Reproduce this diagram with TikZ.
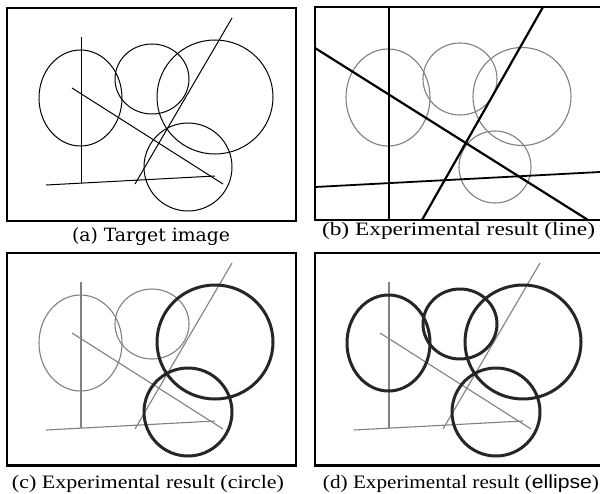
\documentclass[tikz,border=0pt]{standalone}
\usepackage{fontspec}
\setmainfont{Liberation Serif}
\newfontfamily\capAfont{DejaVu Serif}
\newfontfamily\capSfont{Liberation Sans}
\usepackage{graphicx}
\newlength\pxu \setlength\pxu{0.5mm}
\newcommand\drawtarget[3]{%
  \draw[#1] (81,37) -- (81,183);
  \draw[#1] (72,88) -- (223,184);
  \draw[#1] (232,18) -- (135,184);
  \draw[#1] (46,185) -- (215,176);
  \draw[#2] (80.5,98) ellipse [x radius=41.5, y radius=48];
  \draw[#2] (152,79) ellipse [x radius=37, y radius=35];
  \draw[#3] (215,97) ellipse [x radius=58, y radius=57];
  \draw[#3] (188,167) circle [radius=44];
}
\begin{document}
\begin{tikzpicture}[x=0.5mm,y=-0.5mm,
  frame/.style={line width=2.5\pxu, black},
  tline/.style={line width=1\pxu, black},
  gline/.style={line width=1.1\pxu, black!50},
  bline/.style={line width=2.2\pxu, black},
  bcirc/.style={line width=3\pxu, black!85},
  captext/.style={inner sep=0, anchor=base, font=\fontsize{27pt}{30pt}\selectfont}]
\useasboundingbox (0,0) rectangle (600,493);
\fill[white] (0,0) rectangle (600,493);
% (a)
\draw[frame] (7,8) rectangle (296,221);
\drawtarget{tline}{tline}{tline}
\node[captext, font=\fontsize{26pt}{29pt}\selectfont\capAfont] (capa) at (151,241.5) {\resizebox{158\pxu}{\height}{(a) Target image}};
% (b)
\begin{scope}
\draw[gline] (388,97.5) ellipse [x radius=42, y radius=48.5];
\draw[gline] (460,79) ellipse [x radius=37, y radius=36];
\draw[gline] (522,96.5) circle [radius=49];
\draw[gline] (495,167) circle [radius=36];
\draw[bline] (389,7) -- (389,220);
\draw[bline] (315,48) -- (588,220);
\draw[bline] (543,7) -- (422,220);
\draw[bline, line width=1.8\pxu] (315,187) -- (600,172);
\draw[frame] (600,7) -- (315,7) -- (315,220) -- (600,220);
\end{scope}
\node[captext] (capb) at (458.5,235) {\resizebox{273\pxu}{\height}{(b) Experimental result (line)}};
% (c)
\draw[frame] (7,253) rectangle (296,465.5);
\begin{scope}[shift={(0,245)}]
\drawtarget{gline}{gline}{bcirc}
\end{scope}
\node[captext] (capc) at (148,488) {\resizebox{272\pxu}{\height}{(c) Experimental result (circle)}};
% (d)
\draw[frame] (600,253) -- (315,253) -- (315,465.5) -- (600,465.5);
\begin{scope}[shift={(308,245)}]
\drawtarget{gline}{bcirc}{bcirc}
\end{scope}
\node[captext] (capd) at (461,488) {\resizebox{276\pxu}{\height}{(d) Experimental result ({\capSfont ellipse})}};
\end{tikzpicture}
\end{document}
